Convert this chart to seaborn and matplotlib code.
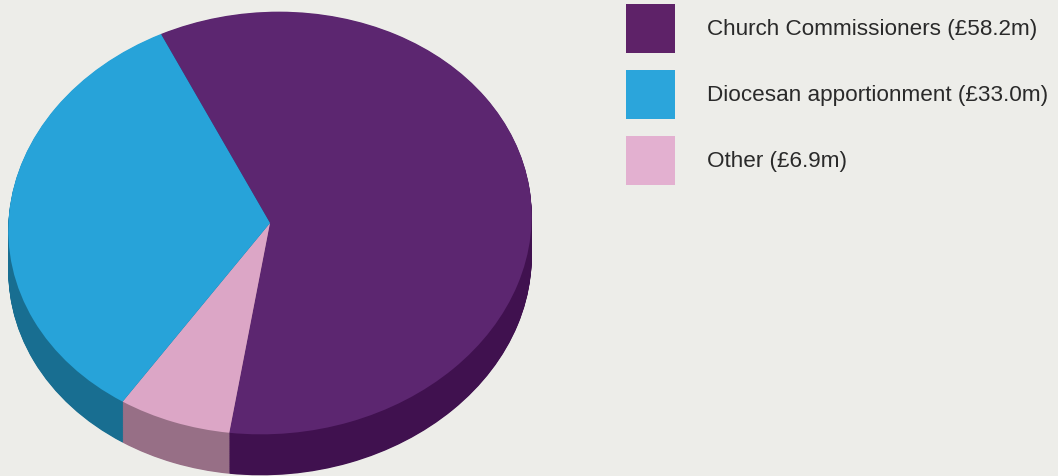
import numpy as np
import matplotlib
matplotlib.use("Agg")
import matplotlib.pyplot as plt
from matplotlib.transforms import Affine2D
import seaborn as sns

# ---- data ----
categories = ["Church Commissioners", "Diocesan apportionment", "Other"]
values = [58.2, 33.0, 6.9]
legend_labels = ["Church Commissioners (£58.2m)", "Diocesan apportionment (£33.0m)", "Other (£6.9m)"]
top_colors = ["#5C2670", "#27A3D9", "#DCA6C6"]
side_colors = ["#40114F", "#186E91", "#976F86"]
legend_colors = ["#5E2268", "#2BA5DB", "#E3B0D0"]

sns.set_style("white")
plt.rcParams['font.family'] = ['Liberation Sans', 'DejaVu Sans']

BG = "#EDEDE9"
W, H = 1058, 477
fig = plt.figure(figsize=(W / 100, H / 100), dpi=100, facecolor=BG)

# pie geometry (pixels)
cx, cy, rx, ry, depth, tilt = 270, 224, 262, 211, 41, 4.5

ax = fig.add_axes([0, 0, 1, 1])
ax.set_facecolor(BG)

# clockwise order: Church, Other, Diocesan
order = [0, 2, 1]
vals = [values[i] for i in order]
start = 111.0


def draw_layer(colors, off, lw=0, ec="none"):
    wedges, _ = ax.pie(vals, colors=colors, startangle=start, counterclock=False,
                       center=(0, 0), radius=1, frame=True,
                       wedgeprops=dict(linewidth=lw, edgecolor=ec, antialiased=True))
    tr = Affine2D().scale(rx, ry).rotate_deg(tilt).translate(cx, H - cy - off) + ax.transData
    for w in wedges:
        w.set_transform(tr)


n_layers = 60
for k in range(n_layers, 0, -1):
    draw_layer([side_colors[i] for i in order], depth * k / n_layers)
draw_layer([top_colors[i] for i in order], 0)

ax.set_aspect("auto")
ax.set_xlim(0, W)
ax.set_ylim(0, H)
ax.axis("off")

# legend
for i, (lab, col) in enumerate(zip(legend_labels, legend_colors)):
    y0 = 5 + i * 66
    ax.add_patch(plt.Rectangle((626, H - y0 - 49), 49, 49, facecolor=col, edgecolor="none"))
    ax.text(707, H - y0 - 24.5, lab, fontsize=16.2, color="#2A2A2A", va="center", ha="left")

fig.savefig("out.png", dpi=100, facecolor=BG)
